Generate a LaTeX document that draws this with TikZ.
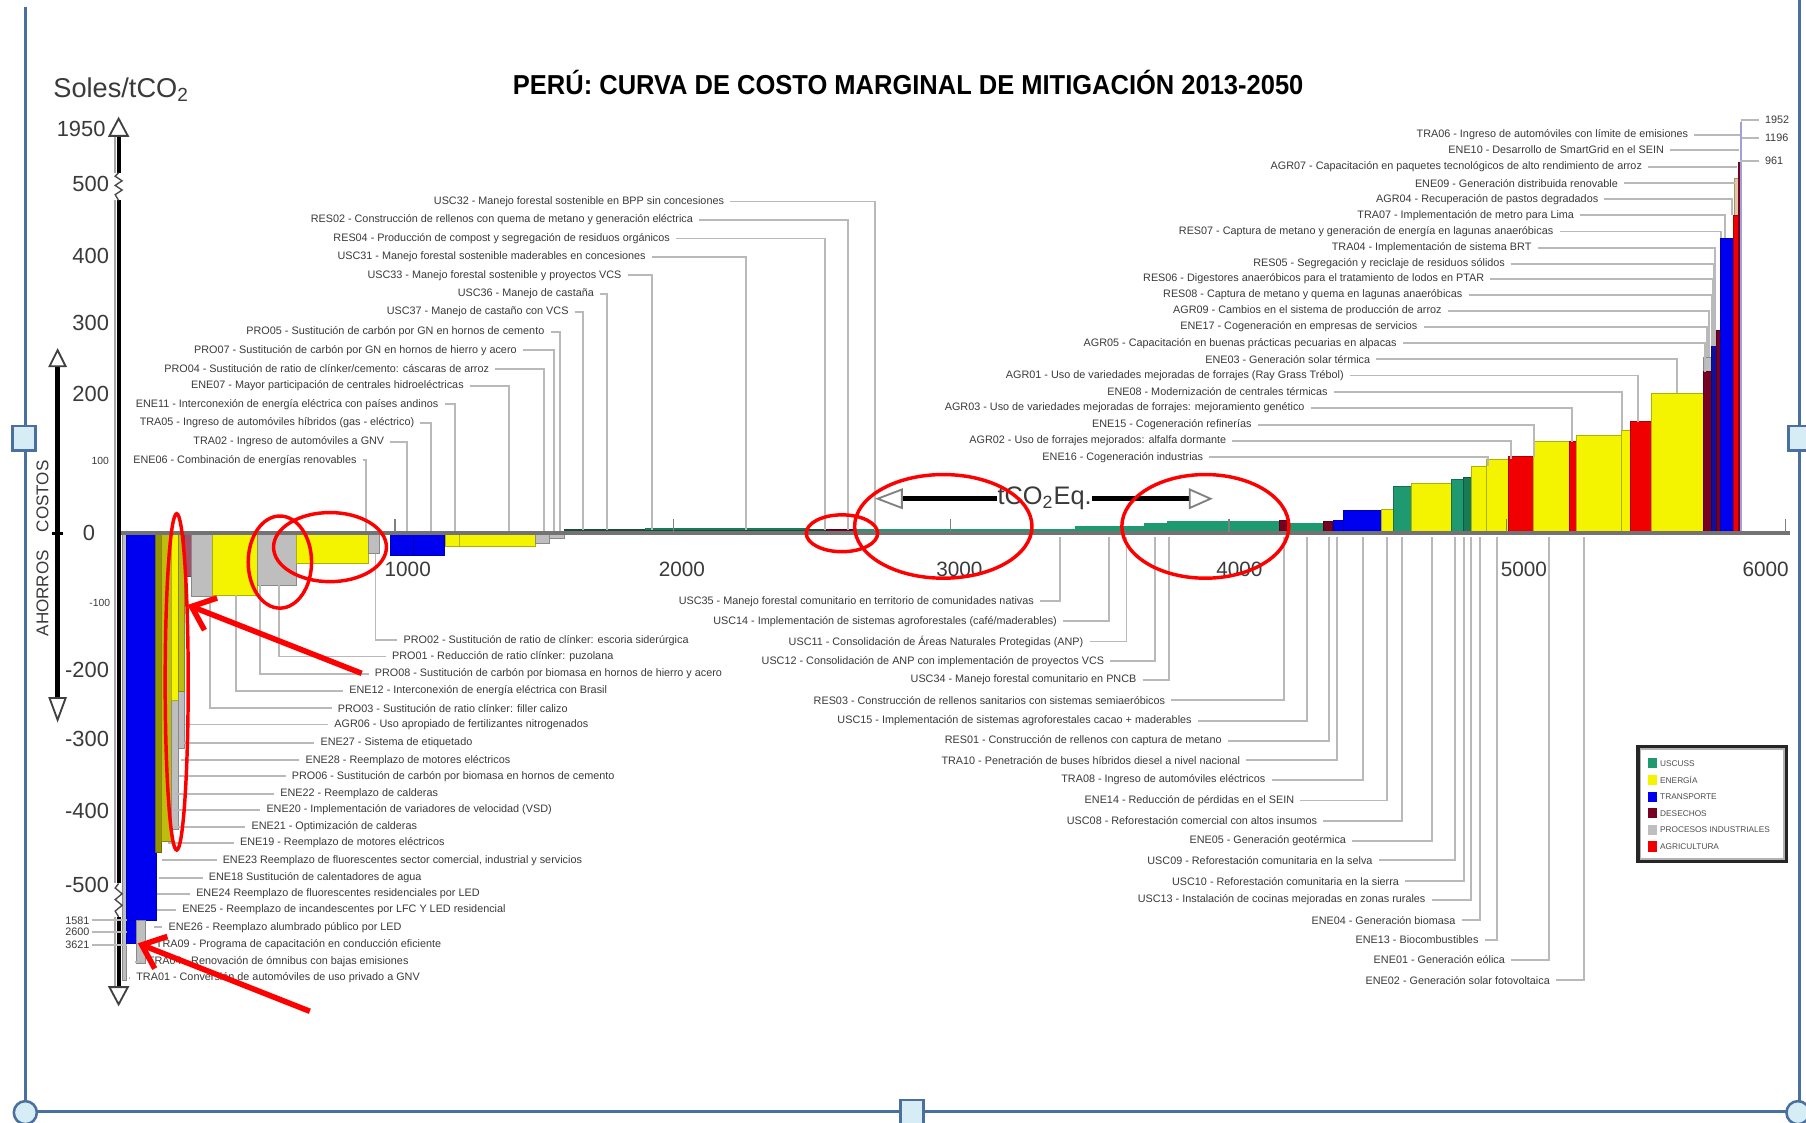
\documentclass[tikz,border=0pt]{standalone}
\usepackage{fontspec}
\setmainfont{Liberation Sans}
\usetikzlibrary{arrows.meta}

\definecolor{frameblue}{HTML}{4A70A0}
\definecolor{handlefill}{HTML}{D6EDF6}
\definecolor{ugreen}{HTML}{1F9A70}
\definecolor{ugreendark}{HTML}{197A58}
\definecolor{dgreen}{HTML}{1D4A3A}
\definecolor{eyellow}{HTML}{F4F400}
\definecolor{tblue}{HTML}{0000F0}
\definecolor{navy}{HTML}{1010A0}
\definecolor{dmaroon}{HTML}{780020}
\definecolor{rustbar}{HTML}{A5506A}
\definecolor{pgray}{HTML}{BEBEBE}
\definecolor{ared}{HTML}{F00000}
\definecolor{olivebar}{HTML}{949400}
\definecolor{olivelight}{HTML}{BDBD10}
\definecolor{beige}{HTML}{E0C8A0}
\definecolor{lavender}{HTML}{A0A0D8}
\definecolor{txt}{HTML}{3A3A3A}

\tikzset{
  lbl/.style={font=\fontsize{4.7}{5}\selectfont, text=txt, inner xsep=2.5pt, inner ysep=0pt},
  leader/.style={draw=gray!55, line width=0.8pt},
  ytick/.style={font=\fontsize{9.5}{10}\selectfont, text=txt, inner sep=0pt},
  ysmall/.style={font=\fontsize{4.5}{5}\selectfont, text=txt, inner sep=0pt},
  xtick/.style={font=\fontsize{9}{10}\selectfont, text=txt, inner sep=0pt},
  redmark/.style={draw=red, line width=1.5pt},
  redarrow/.style={draw=red, line width=2.4pt, -{Straight Barb[length=9pt,width=15pt]}},
  openhead/.style={fill=white, draw=black!75, line width=0.8pt},
  handle/.style={fill=handlefill, draw=frameblue, line width=1.1pt},
  legtext/.style={font=\fontsize{3.6}{4}\selectfont, text=black!70, anchor=west, inner sep=0pt},
}

% one bar of the curve: colour, corner, corner
\newcommand\macbar[5]{\filldraw[fill=#1, draw=#1!72!black, line width=0.25pt] (#2,#3) rectangle (#4,#5);}
% label above the axis, leader goes right and then down to its bar
\newcommand\toplabel[6]{%
  \node[lbl, anchor=east] (#1) at (#2,#3) {#6};
  \draw[leader] (#1.east) -| (#4,#5);}
% label below the axis, leader goes right and then up to the axis
\newcommand\midlabel[5]{%
  \node[lbl, anchor=east] (#1) at (#2,#3) {#5};
  \draw[leader] (#1.east) -| (#4,466);}
% label below the left bars, leader comes down from the bar and turns right
\newcommand\leftlabel[6]{%
  \node[lbl, anchor=west] (#1) at (#5,#4) {#6};
  \draw[leader] (#2,#3) |- (#1.west);}

\begin{document}
\begin{tikzpicture}[x=0.5pt,y=-0.5pt]
\useasboundingbox (0,0) rectangle (1568,975);
\fill[white] (0,0) rectangle (1568,975);

% ---------------- negative-cost bars (left) ----------------
\macbar{pgray}{106}{463}{110}{851}
\macbar{tblue}{110}{463}{135.4}{799}
\macbar{tblue}{110}{799}{118.6}{819}
\macbar{pgray}{118.6}{799}{125.8}{836}
\macbar{olivebar}{134.6}{463}{140.4}{740}
\macbar{olivelight}{140.4}{463}{149}{730}
\macbar{pgray}{149}{463}{155}{720}
\macbar{eyellow}{149}{463}{155}{608}
\macbar{pgray}{155}{463}{160}{650}
\macbar{olivelight}{155}{463}{160}{600}
\macbar{rustbar}{160}{463}{166}{500}
\macbar{pgray}{166}{463}{184}{518}
\macbar{eyellow}{184}{463}{223}{516.6}
\macbar{pgray}{223}{463}{257.6}{508}
\macbar{eyellow}{257.6}{463}{319.6}{489}
\macbar{pgray}{319.6}{463}{329.7}{480}
\macbar{tblue}{339}{463}{358.5}{482}
\macbar{tblue}{358.5}{463}{386}{482}
\macbar{eyellow}{387}{463}{399}{474.6}
\macbar{eyellow}{399}{463}{465}{474.6}
\macbar{pgray}{465}{463}{477}{471.7}
\macbar{pgray}{477}{463}{490}{467}

% ---------------- thin forestry band along the axis ----------------
\fill[dgreen] (490,459.5) rectangle (743,463);
\fill[ugreendark] (560,458.5) rectangle (700,460.5);
\macbar{dmaroon}{717}{459.5}{743}{463}
\fill[ugreen] (743,459) rectangle (933,463);
\fill[ugreen] (933,456.7) rectangle (993,463);
\fill[ugreen] (993,453.7) rectangle (1013,463);
\fill[ugreen] (1013,452) rectangle (1111,463);
\macbar{dmaroon}{1111}{452}{1117}{463}
\fill[ugreen] (1117,453.7) rectangle (1149,463);
\macbar{dmaroon}{1149}{453}{1157}{463}
\fill[dgreen] (743,461.3) rectangle (1149,463);

% ---------------- positive-cost bars (right) ----------------
\macbar{tblue}{1157.5}{451.5}{1166}{463}
\macbar{tblue}{1166}{442.8}{1199.6}{463}
\macbar{eyellow}{1199.6}{442.2}{1209.7}{463}
\macbar{ugreen}{1209.7}{422.5}{1225.6}{463}
\macbar{eyellow}{1225.6}{419.6}{1260.4}{463}
\macbar{ugreen}{1260.4}{416}{1270.5}{463}
\macbar{ugreendark}{1270.5}{414}{1277.7}{463}
\macbar{eyellow}{1277.7}{404.6}{1290.7}{463}
\macbar{eyellow}{1290.7}{398.8}{1309.5}{463}
\macbar{ared}{1309.5}{396.5}{1331.2}{463}
\macbar{eyellow}{1331.2}{383.5}{1362.5}{463}
\macbar{ared}{1362.5}{383.5}{1368.3}{463}
\macbar{eyellow}{1368.3}{377.7}{1408}{463}
\macbar{eyellow}{1408}{373.3}{1415}{463}
\macbar{ared}{1415}{366}{1434}{463}
\macbar{eyellow}{1434}{341.5}{1478.8}{463}
\macbar{pgray}{1478.8}{310}{1486}{463}
\macbar{dmaroon}{1478.8}{322.7}{1486}{463}
\macbar{navy}{1486}{299.5}{1490.3}{463}
\macbar{dmaroon}{1490.3}{286.5}{1493.9}{463}
\macbar{tblue}{1493.9}{207}{1504.9}{463}
\macbar{beige}{1505.5}{154.7}{1509.2}{187}
\macbar{ared}{1504.9}{186.7}{1509.2}{463}
\fill[dmaroon] (1509.2,140.4) rectangle (1510.8,463);
\fill[lavender] (1510.8,105.6) rectangle (1512.2,463);

% ---------------- labels above the axis, left group ----------------
\toplabel{t1}{634}{175}{760}{460}{USC32 - Manejo forestal sostenible en BPP sin concesiones}
\toplabel{t2}{607}{191}{736}{460}{RES02 - Construcción de rellenos con quema de metano y generación eléctrica}
\toplabel{t3}{587}{207}{716}{460}{RES04 - Producción de compost y segregación de residuos orgánicos}
\toplabel{t4}{566}{223}{648}{460}{USC31 - Manejo forestal sostenible maderables en concesiones}
\toplabel{t5}{545}{239}{566}{460}{USC33 - Manejo forestal sostenible y proyectos VCS}
\toplabel{t6}{521}{255}{527}{460}{USC36 - Manejo de castaña}
\toplabel{t7}{499}{271}{506}{460}{USC37 - Manejo de castaño con VCS}
\toplabel{t8}{478}{288}{486}{462}{PRO05 - Sustitución de carbón por GN en hornos de cemento}
\toplabel{t9}{454}{304}{481}{462}{PRO07 - Sustitución de carbón por GN en hornos de hierro y acero}
\toplabel{t10}{430}{320}{472}{462}{PRO04 - Sustitución de ratio de clínker/cemento: cáscaras de arroz}
\toplabel{t11}{408}{335}{442}{463}{ENE07 - Mayor participación de centrales hidroeléctricas}
\toplabel{t12}{386}{351}{395}{463}{ENE11 - Interconexión de energía eléctrica con países andinos}
\toplabel{t13}{365}{367}{374}{463}{TRA05 - Ingreso de automóviles híbridos (gas - eléctrico)}
\toplabel{t14}{339}{383.5}{353}{463}{TRA02 - Ingreso de automóviles a GNV}
\toplabel{t15}{315}{399.5}{318}{463}{ENE06 - Combinación de energías renovables}

% ---------------- labels above the axis, right group ----------------
\toplabel{r1}{1471}{117}{1511}{117}{TRA06 - Ingreso de automóviles con límite de emisiones}
\toplabel{r2}{1450}{130}{1510}{130}{ENE10 - Desarrollo de SmartGrid en el SEIN}
\toplabel{r3}{1431}{145}{1508}{145}{AGR07 - Capacitación en paquetes tecnológicos de alto rendimiento de arroz}
\toplabel{r4}{1410}{159}{1506}{159}{ENE09 - Generación distribuida renovable}
\toplabel{r5}{1393}{173}{1503.5}{187}{AGR04 - Recuperación de pastos degradados}
\toplabel{r6}{1372}{187}{1498}{207}{TRA07 - Implementación de metro para Lima}
\toplabel{r7}{1354}{201}{1494}{207}{RES07 - Captura de metano y generación de energía en lagunas anaeróbicas}
\toplabel{r8}{1335}{215}{1489}{300}{TRA04 - Implementación de sistema BRT}
\toplabel{r9}{1312}{229}{1488}{300}{RES05 - Segregación y reciclaje de residuos sólidos}
\toplabel{r10}{1294}{242}{1487}{300}{RES06 - Digestores anaeróbicos para el tratamiento de lodos en PTAR}
\toplabel{r11}{1275}{256}{1486}{300}{RES08 - Captura de metano y quema en lagunas anaeróbicas}
\toplabel{r12}{1257}{270}{1484}{310}{AGR09 - Cambios en el sistema de producción de arroz}
\toplabel{r13}{1236}{284}{1482}{310}{ENE17 - Cogeneración en empresas de servicios}
\toplabel{r14}{1218}{298}{1480}{323}{AGR05 - Capacitación en buenas prácticas pecuarias en alpacas}
\toplabel{r15}{1195}{312}{1456}{341.5}{ENE03 - Generación solar térmica}
\toplabel{r16}{1172}{326}{1422}{366}{AGR01 - Uso de variedades mejoradas de forrajes (Ray Grass Trébol)}
\toplabel{r17}{1158}{340}{1408}{373.3}{ENE08 - Modernización de centrales térmicas}
\toplabel{r18}{1138}{354}{1365}{383.5}{AGR03 - Uso de variedades mejoradas de forrajes: mejoramiento genético}
\toplabel{r19}{1092}{369}{1332}{396.5}{ENE15 - Cogeneración refinerías}
\toplabel{r20}{1070}{383}{1312}{398.8}{AGR02 - Uso de forrajes mejorados: alfalfa dormante}
\toplabel{r21}{1050}{397}{1292}{404.6}{ENE16 - Cogeneración industrias}

% values of the three tallest bars
\node[lbl, anchor=west] (v1) at (1527,104) {1952};
\node[lbl, anchor=west] (v2) at (1527,120) {1196};
\node[lbl, anchor=west] (v3) at (1527,140) {961};
\draw[leader] (1512,106) |- (v1.west);
\draw[leader] (1512,120) -- (v2.west);
\draw[leader] (1511,140) -- (v3.west);

% ---------------- labels below the axis, middle group ----------------
\midlabel{m1}{903}{522}{920}{USC35 - Manejo forestal comunitario en territorio de comunidades nativas}
\midlabel{m2}{923}{539.5}{963}{USC14 - Implementación de sistemas agroforestales (café/maderables)}
\midlabel{m3}{946}{557}{978}{USC11 - Consolidación de Áreas Naturales Protegidas (ANP)}
\midlabel{m4}{964}{574}{1003}{USC12 - Consolidación de ANP con implementación de proyectos VCS}
\midlabel{m5}{992}{590.5}{1015}{USC34 - Manejo forestal comunitario en PNCB}
\midlabel{m6}{1017}{608}{1115}{RES03 - Construcción de rellenos sanitarios con sistemas semiaeróbicos}
\midlabel{m7}{1040}{626}{1135}{USC15 - Implementación de sistemas agroforestales cacao + maderables}
\midlabel{m8}{1066}{643}{1154}{RES01 - Construcción de rellenos con captura de metano}
\midlabel{m9}{1082}{660}{1161}{TRA10 - Penetración de buses híbridos diesel a nivel nacional}
\midlabel{m10}{1104}{677}{1183}{TRA08 - Ingreso de automóviles eléctricos}
\midlabel{m11}{1129}{695}{1204}{ENE14 - Reducción de pérdidas en el SEIN}
\midlabel{m12}{1149}{712.5}{1217}{USC08 - Reforestación comercial con altos insumos}
\midlabel{m13}{1174}{730}{1243}{ENE05 - Generación geotérmica}
\midlabel{m14}{1197}{747}{1263}{USC09 - Reforestación comunitaria en la selva}
\midlabel{m15}{1220}{765}{1271}{USC10 - Reforestación comunitaria en la sierra}
\midlabel{m16}{1243}{781.5}{1277}{USC13 - Instalación de cocinas mejoradas en zonas rurales}
\midlabel{m17}{1269}{799}{1285}{ENE04 - Generación biomasa}
\midlabel{m18}{1289}{816}{1300}{ENE13 - Biocombustibles}
\midlabel{m19}{1312}{833.5}{1345}{ENE01 - Generación eólica}
\midlabel{m20}{1351}{851}{1375}{ENE02 - Generación solar fotovoltaica}

% ---------------- labels below the axis, left group ----------------
\leftlabel{b1}{326}{481}{556}{345}{PRO02 - Sustitución de ratio de clínker: escoria siderúrgica}
\leftlabel{b2}{242}{508}{570}{335}{PRO01 - Reducción de ratio clínker: puzolana}
\leftlabel{b3}{226}{508}{585}{320}{PRO08 - Sustitución de carbón por biomasa en hornos de hierro y acero}
\leftlabel{b4}{205}{517}{600}{298}{ENE12 - Interconexión de energía eléctrica con Brasil}
\leftlabel{b5}{182}{518}{615}{288}{PRO03 - Sustitución de ratio clínker: filler calizo}
\leftlabel{b6}{161}{629}{629}{285}{AGR06 - Uso apropiado de fertilizantes nitrogenados}
\leftlabel{b7}{159}{645}{645}{273}{ENE27 - Sistema de etiquetado}
\leftlabel{b8}{157}{660}{660}{260}{ENE28 - Reemplazo de motores eléctricos}
\leftlabel{b9}{155}{674}{674}{248}{PRO06 - Sustitución de carbón por biomasa en hornos de cemento}
\leftlabel{b10}{152}{689}{689}{238}{ENE22 - Reemplazo de calderas}
\leftlabel{b11}{150}{703}{703}{226}{ENE20 - Implementación de variadores de velocidad (VSD)}
\leftlabel{b12}{148}{718}{718}{213}{ENE21 - Optimización de calderas}
\leftlabel{b13}{146}{732}{732}{203}{ENE19 - Reemplazo de motores eléctricos}
\leftlabel{b14}{141}{747}{747}{188}{ENE23 Reemplazo de fluorescentes sector comercial, industrial y servicios}
\leftlabel{b15}{138}{762}{762}{176}{ENE18 Sustitución de calentadores de agua}
\leftlabel{b16}{136}{776}{776}{165}{ENE24 Reemplazo de fluorescentes residenciales por LED}
\leftlabel{b17}{136}{790}{790}{153}{ENE25 - Reemplazo de incandescentes por LFC Y LED residencial}
\leftlabel{b18}{134}{805}{805}{141}{ENE26 - Reemplazo alumbrado público por LED}
\leftlabel{b19}{120}{820}{820}{130}{TRA09 - Programa de capacitación en conducción eficiente}
\leftlabel{b20}{117}{835}{835}{123}{TRA04 - Renovación de ómnibus con bajas emisiones}
\leftlabel{b21}{112}{849}{849}{113}{TRA01 - Conversión de automóviles de uso privado a GNV}

% ---------------- horizontal axis ----------------
\draw[draw=black!55, line width=1.9pt] (103,463) -- (1554,463);
\foreach \tx in {343,585,825,1067,1308,1550} \draw[gray, line width=0.6pt] (\tx,462) -- (\tx,451);
\node[xtick] (x1) at (354,494) {1000};
\node[xtick] (x2) at (592,494) {2000};
\node[xtick] (x3) at (833,494) {3000};
\node[xtick] (x4) at (1076,494) {4000};
\node[xtick] (x5) at (1323,494) {5000};
\node[xtick] (x6) at (1533,494) {6000};

% ---------------- vertical axis ----------------
\draw[gray!70, line width=0.7pt] (100,118) -- (100,150) (100,174) -- (100,767) (100,796) -- (100,857);
\draw[black, line width=1.8pt] (103,118) -- (103,150) (103,174) -- (103,767) (103,796) -- (103,857);
\draw[black!70, line width=0.6pt] (103,150) -- (100,153) -- (106,157) -- (100,161) -- (106,165) -- (100,169) -- (103,174);
\draw[black!70, line width=0.6pt] (103,767) -- (100,771) -- (106,776) -- (100,781) -- (106,786) -- (100,791) -- (103,796);
\filldraw[openhead] (103,103) -- (111,118) -- (95,118) -- cycle;
\filldraw[openhead] (103,872) -- (111,857) -- (95,857) -- cycle;

\node[ytick, anchor=east] (y1950) at (92,112) {1950};
\node[ytick, anchor=east] (y500) at (95,160) {500};
\node[ytick, anchor=east] (y400) at (95,222) {400};
\node[ytick, anchor=east] (y300) at (95,280) {300};
\node[ytick, anchor=east] (y200) at (95,342) {200};
\node[ysmall, anchor=east] (y100) at (95,400) {100};
\node[ytick, anchor=east] (y0) at (83,463) {0};
\node[ysmall, anchor=east] (ym100) at (96,523.5) {-100};
\node[ytick, anchor=east] (ym200) at (95,582) {-200};
\node[ytick, anchor=east] (ym300) at (95,642) {-300};
\node[ytick, anchor=east] (ym400) at (95,704) {-400};
\node[ytick, anchor=east] (ym500) at (95,768) {-500};
\node[lbl, anchor=east, inner xsep=1pt] (yb1) at (80,799) {1581};
\node[lbl, anchor=east, inner xsep=1pt] (yb2) at (80,809) {2600};
\node[lbl, anchor=east, inner xsep=1pt] (yb3) at (80,820.5) {3621};
\draw[leader] (yb1.east) -- (110,799);
\draw[leader] (yb2.east) -- (110,809);
\draw[leader] (yb3.east) -- (110,820.5);

\node[font=\fontsize{11.8}{12}\selectfont, text=txt, anchor=west, inner sep=0pt] (unit) at (46,78) {Soles/tCO\textsubscript{2}};

% ---------------- savings / costs arrow ----------------
\draw[black, line width=2pt] (50,318) -- (50,606);
\draw[black, line width=1.2pt] (45,463) -- (55,463);
\filldraw[openhead] (50,304) -- (57,318) -- (43,318) -- cycle;
\filldraw[openhead] (50,625) -- (57,606) -- (43,606) -- cycle;
\node[rotate=90, font=\fontsize{7.4}{8}\selectfont, text=txt, inner sep=0pt] (costos) at (37,431) {COSTOS};
\node[rotate=90, font=\fontsize{7.4}{8}\selectfont, text=txt, inner sep=0pt] (ahorros) at (37,515) {AHORROS};

% ---------------- tCO2 arrow ----------------
\node[font=\fontsize{11}{12}\selectfont, text=txt, inner sep=0pt] (teq) at (907,433) {tCO\textsubscript{2}Eq.};
\draw[black, line width=2pt] (783,433) -- (teq.west);
\draw[black, line width=2pt] (teq.east) -- (1033,433);
\filldraw[openhead, draw=gray] (762,433) -- (783,425) -- (783,441) -- cycle;
\filldraw[openhead, draw=gray] (1051,433) -- (1033,425) -- (1033,441) -- cycle;

% ---------------- title ----------------
\node[font=\fontsize{11.9}{12}\selectfont\bfseries, text=black, inner sep=0pt] (title) at (788.5,72)
  {\scalebox{0.93}[1]{PERÚ: CURVA DE COSTO MARGINAL DE MITIGACIÓN 2013-2050}};

% ---------------- legend ----------------
\draw[black!30, line width=0.8pt, fill=white] (1424,650) rectangle (1549,746);
\draw[black!85, line width=1.6pt] (1422,648) rectangle (1551,748);
\foreach \c/\yy/\tt [count=\i] in {ugreen/662.6/USCUSS, eyellow/677/ENERGÍA, tblue/692/TRANSPORTE, dmaroon/706/DESECHOS, pgray/720.6/PROCESOS INDUSTRIALES, ared/735/AGRICULTURA}{
  \fill[\c] (1431,\yy-4.5) rectangle (1438.5,\yy+4.5);
  \node[legtext] (leg\i) at (1441,\yy) {\tt};
}

% ---------------- red hand-drawn marks ----------------
\draw[redmark] (153.4,592) ellipse [x radius=10, y radius=146];
\draw[redmark] (243,488) ellipse [x radius=27.5, y radius=40];
\draw[redmark] (286.5,475) ellipse [x radius=49, y radius=30];
\draw[redmark] (731,463) ellipse [x radius=31, y radius=16];
\draw[redmark] (819,457) ellipse [x radius=77, y radius=45];
\draw[redmark] (1046.5,457) ellipse [x radius=72.5, y radius=45];
\coordinate (a1s) at (314,584.6);
\coordinate (a1e) at (162.8,525.2);
\coordinate (a2s) at (269,878);
\coordinate (a2e) at (119.6,819);
\draw[redarrow] (a1s) -- (a1e);
\draw[redarrow] (a2s) -- (a2e);

% ---------------- picture frame with selection handles ----------------
\draw[frameblue, line width=1.1pt] (22,6) -- (22,965) -- (1562.5,965) -- (1562.5,0);
\filldraw[handle] (11,370) rectangle (31,391);
\filldraw[handle] (1553,370) rectangle (1573,391);
\filldraw[handle] (782,955) rectangle (802,976);
\filldraw[handle] (22,966) circle (10);
\filldraw[handle] (1561,966) circle (10);
\end{tikzpicture}
\end{document}
